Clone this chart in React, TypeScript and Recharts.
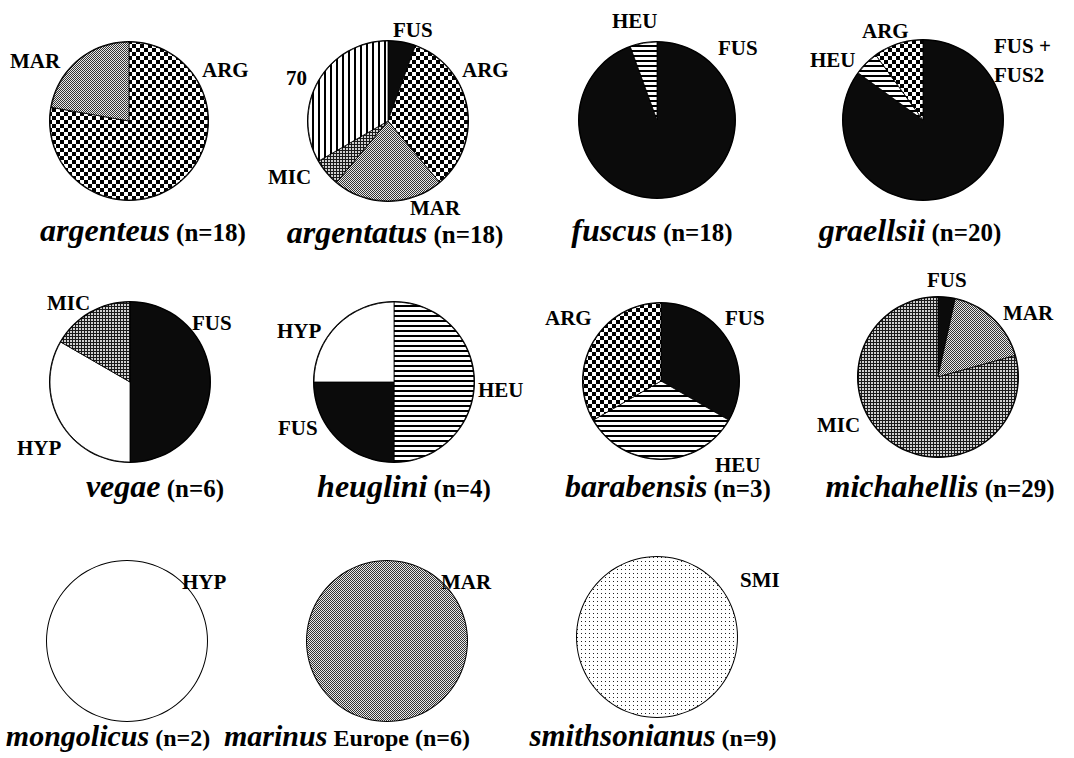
import React from "react";
import { PieChart, Pie, Cell } from "recharts";

const W = 1074;
const H = 758;

// species shown, in reading order, with their sample sizes
const species = [
  "argenteus", "argentatus", "fuscus", "graellsii",
  "vegae", "heuglini", "barabensis", "michahellis",
  "mongolicus", "marinus", "smithsonianus",
];
const sampleSizes = [18, 18, 18, 20, 6, 4, 3, 29, 2, 6, 9];

// haplogroup counts per species, clockwise from 12 o'clock
const argenteusGroups = ["ARG", "MAR"];
const argenteusCounts = [14, 4];
const argentatusGroups = ["FUS", "ARG", "MAR", "MIC", "70"];
const argentatusCounts = [1, 6, 4, 1, 6];
const fuscusGroups = ["FUS", "HEU"];
const fuscusCounts = [17, 1];
const graellsiiGroups = ["FUS", "HEU", "ARG"];
const graellsiiCounts = [17, 1, 2];
const vegaeGroups = ["FUS", "HYP", "MIC"];
const vegaeCounts = [3, 2, 1];
const heugliniGroups = ["HEU", "FUS", "HYP"];
const heugliniCounts = [2, 1, 1];
const barabensisGroups = ["FUS", "HEU", "ARG"];
const barabensisCounts = [1, 1, 1];
const michahellisGroups = ["FUS", "MAR", "MIC"];
const michahellisCounts = [1, 5, 23];
const mongolicusGroups = ["HYP"];
const mongolicusCounts = [2];
const marinusGroups = ["MAR"];
const marinusCounts = [6];
const smithsonianusGroups = ["SMI"];
const smithsonianusCounts = [9];

const groupsBySpecies = [
  argenteusGroups, argentatusGroups, fuscusGroups, graellsiiGroups,
  vegaeGroups, heugliniGroups, barabensisGroups, michahellisGroups,
  mongolicusGroups, marinusGroups, smithsonianusGroups,
];
const countsBySpecies = [
  argenteusCounts, argentatusCounts, fuscusCounts, graellsiiCounts,
  vegaeCounts, heugliniCounts, barabensisCounts, michahellisCounts,
  mongolicusCounts, marinusCounts, smithsonianusCounts,
];

// layout: pie centre, radius, title position, slice label positions
type Layout = {
  cx: number;
  cy: number;
  r: number;
  tx: number;
  ty: number;
  fs?: number;
  extra?: string;
  labels: [string, number, number][];
};

const layout: Layout[] = [
  { cx: 129, cy: 121, r: 79, tx: 143, ty: 241,
    labels: [["MAR", 10, 68], ["ARG", 202, 77]] },
  { cx: 388, cy: 121, r: 80, tx: 395, ty: 243,
    labels: [["FUS", 393, 37], ["ARG", 462, 77], ["70", 286, 85], ["MIC", 268, 184], ["MAR", 410, 215]] },
  { cx: 657, cy: 120, r: 78, tx: 652, ty: 241,
    labels: [["HEU", 612, 28], ["FUS", 718, 55]] },
  { cx: 923, cy: 120, r: 80, tx: 910, ty: 241,
    labels: [["ARG", 862, 38], ["HEU", 810, 67], ["FUS +", 994, 53], ["FUS2", 994, 82]] },
  { cx: 130, cy: 382, r: 80, tx: 155, ty: 497,
    labels: [["MIC", 47, 310], ["FUS", 192, 330], ["HYP", 17, 455]] },
  { cx: 394, cy: 382, r: 80, tx: 404, ty: 497,
    labels: [["HYP", 277, 338], ["HEU", 478, 397], ["FUS", 278, 435]] },
  { cx: 661, cy: 381, r: 78, tx: 668, ty: 497,
    labels: [["ARG", 545, 325], ["FUS", 725, 325], ["HEU", 715, 472]] },
  { cx: 938, cy: 377, r: 80, tx: 940, ty: 497,
    labels: [["FUS", 927, 287], ["MAR", 1003, 320], ["MIC", 817, 432]] },
  { cx: 127, cy: 641, r: 80, tx: 108, ty: 746, fs: 30,
    labels: [["HYP", 182, 589]] },
  { cx: 387, cy: 641, r: 80, tx: 347, ty: 746, fs: 30, extra: " Europe",
    labels: [["MAR", 441, 589]] },
  { cx: 657, cy: 637, r: 80, tx: 653, ty: 746, fs: 31,
    labels: [["SMI", 740, 587]] },
];

const fills: Record<string, string> = {
  ARG: "url(#pat-arg)",
  MAR: "url(#pat-mar)",
  MIC: "url(#pat-mic)",
  FUS: "#0b0b0b",
  HEU: "url(#pat-heu)",
  HYP: "#ffffff",
  SMI: "url(#pat-smi)",
  "70": "url(#pat-70)",
};

const FONT = "'Liberation Serif', 'Times New Roman', serif";

function Patterns() {
  return (
    <svg width={0} height={0} style={{ position: "absolute" }}>
      <defs>
        <pattern id="pat-arg" width={8} height={8} patternUnits="userSpaceOnUse">
          <rect width={8} height={8} fill="#fff" />
          <rect x={0} y={0} width={4} height={4} fill="#000" />
          <rect x={4} y={4} width={4} height={4} fill="#000" />
        </pattern>
        <pattern id="pat-mar" width={2} height={2} patternUnits="userSpaceOnUse">
          <rect width={2} height={2} fill="#e8e8e8" />
          <rect x={0} y={0} width={1} height={1} fill="#333" />
          <rect x={1} y={1} width={1} height={1} fill="#333" />
        </pattern>
        <pattern id="pat-mic" width={3} height={3} patternUnits="userSpaceOnUse">
          <rect width={3} height={3} fill="#1a1a1a" />
          <rect x={1} y={1} width={2} height={2} fill="#d0d0d0" />
        </pattern>
        <pattern id="pat-heu" width={5} height={5} patternUnits="userSpaceOnUse">
          <rect width={5} height={5} fill="#fff" />
          <rect x={0} y={0} width={5} height={2} fill="#000" />
        </pattern>
        <pattern id="pat-70" width={6} height={6} patternUnits="userSpaceOnUse">
          <rect width={6} height={6} fill="#fff" />
          <rect x={0} y={0} width={2} height={6} fill="#000" />
        </pattern>
        <pattern id="pat-smi" width={4} height={4} patternUnits="userSpaceOnUse">
          <rect width={4} height={4} fill="#fff" />
          <rect x={1} y={1} width={1} height={1} fill="#222" />
        </pattern>
      </defs>
    </svg>
  );
}

export default function App() {
  const charts = species.map((name, i) => ({
    name,
    n: sampleSizes[i],
    data: groupsBySpecies[i].map((g, j) => ({ group: g, value: countsBySpecies[i][j] })),
    ...layout[i],
  }));

  return (
    <div style={{ position: "absolute", left: 0, top: 0, width: W, height: H, background: "#fff" }}>
      <style>{`body{margin:0;background:#fff}`}</style>
      <Patterns />
      <PieChart width={W} height={H} margin={{ top: 0, right: 0, bottom: 0, left: 0 }}>
        {charts.map((c) => (
          <Pie
            key={`ring-${c.name}`}
            data={[{ value: c.n }]}
            dataKey="value"
            cx={c.cx}
            cy={c.cy}
            outerRadius={c.r + 1}
            startAngle={90}
            endAngle={-270}
            fill="#000"
            stroke="none"
            isAnimationActive={false}
          />
        ))}
        {charts.map((c) => (
          <Pie
            key={c.name}
            data={c.data}
            dataKey="value"
            nameKey="group"
            cx={c.cx}
            cy={c.cy}
            outerRadius={c.r}
            startAngle={90}
            endAngle={-270}
            stroke={c.data.length > 1 ? "#000" : "none"}
            strokeWidth={0.8}
            isAnimationActive={false}
          >
            {c.data.map((d) => (
              <Cell key={d.group} fill={fills[d.group]} />
            ))}
          </Pie>
        ))}
      </PieChart>
      <svg
        width={W}
        height={H}
        style={{ position: "absolute", left: 0, top: 0, pointerEvents: "none", fontFamily: FONT }}
        fontWeight="bold"
      >
        {charts.map((c) => (
          <g key={`t-${c.name}`}>
            {c.labels.map(([txt, x, y]) => (
              <text key={txt} x={x} y={y} fontSize={21} fill="#000">
                {txt}
              </text>
            ))}
            <text x={c.tx} y={c.ty} textAnchor="middle" fill="#000" style={{ whiteSpace: "pre" }}>
              <tspan fontStyle="italic" fontSize={c.fs ?? 32}>{c.name}</tspan>
              {c.extra && <tspan fontSize={24}>{c.extra}</tspan>}
              <tspan fontSize={c.fs ? 24 : 25}>{` (n=${c.n})`}</tspan>
            </text>
          </g>
        ))}
      </svg>
    </div>
  );
}
